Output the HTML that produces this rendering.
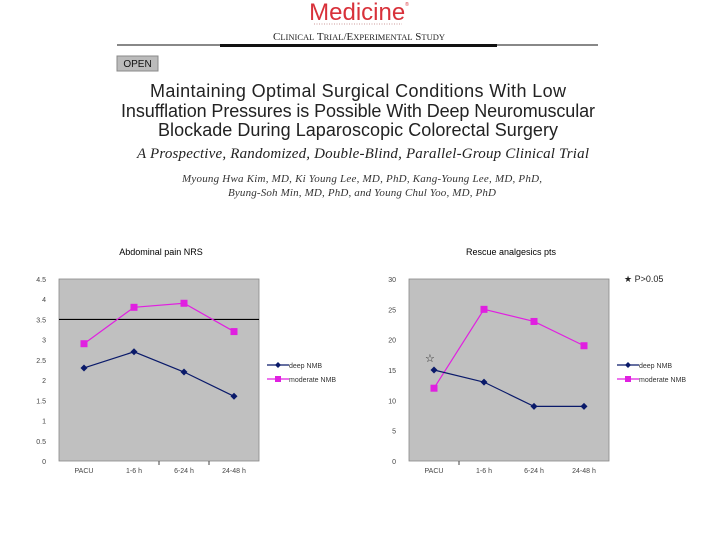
<!DOCTYPE html>
<html><head><meta charset="utf-8"><style>
body{margin:0;background:#fff;}
svg{display:block;font-family:"Liberation Sans",sans-serif;}
</style></head><body>
<svg width="720" height="540" xmlns="http://www.w3.org/2000/svg">
<g>
<text x="359" y="20" text-anchor="middle" font-size="24" fill="#d8313a">Medicine<tspan font-size="5" dy="-14">®</tspan></text>
<line x1="314" y1="24" x2="402" y2="24" stroke="#c99" stroke-width="1" stroke-dasharray="1,1.5"/>
<text x="359" y="40" text-anchor="middle" font-family="Liberation Serif,serif" font-size="11" fill="#222">C<tspan font-size="8.5">LINICAL</tspan> T<tspan font-size="8.5">RIAL</tspan>/E<tspan font-size="8.5">XPERIMENTAL</tspan> S<tspan font-size="8.5">TUDY</tspan></text>
<line x1="117" y1="45" x2="598" y2="45" stroke="#111" stroke-width="1"/>
<rect x="220" y="44" width="277" height="3" fill="#111"/>
<rect x="117" y="56" width="41" height="15" fill="#bbb" stroke="#888"/>
<text x="137.5" y="67" text-anchor="middle" font-size="10" fill="#111">OPEN</text>
<g font-size="18" fill="#222" text-anchor="middle">
<text x="358" y="97" textLength="416">Maintaining Optimal Surgical Conditions With Low</text>
<text x="358" y="117" textLength="474">Insufflation Pressures is Possible With Deep Neuromuscular</text>
<text x="358" y="136" textLength="400">Blockade During Laparoscopic Colorectal Surgery</text>
</g>
<text x="363" y="158" text-anchor="middle" font-family="Liberation Serif,serif" font-style="italic" font-size="15" fill="#222" textLength="452">A Prospective, Randomized, Double-Blind, Parallel-Group Clinical Trial</text>
<g font-family="Liberation Serif,serif" font-style="italic" font-size="11" fill="#333" text-anchor="middle">
<text x="362" y="182" textLength="360">Myoung Hwa Kim, MD, Ki Young Lee, MD, PhD, Kang-Young Lee, MD, PhD,</text>
<text x="362" y="196" textLength="268">Byung-Soh Min, MD, PhD, and Young Chul Yoo, MD, PhD</text>
</g>
</g>
<g id="charts"></g>
</svg>
<script>
const categories=["PACU","1-6 h","6-24 h","24-48 h"];
const painDeep=[2.3,2.7,2.2,1.6];
const painModerate=[2.9,3.8,3.9,3.2];
const painTicks=["0","0.5","1","1.5","2","2.5","3","3.5","4","4.5"];
const rescueDeep=[15,13,9,9];
const rescueModerate=[12,25,23,19];
const rescueTicks=["0","5","10","15","20","25","30"];
const seriesNames=["deep NMB","moderate NMB"];
const NS="http://www.w3.org/2000/svg";
const root=document.getElementById('charts');
function mk(t,a,p){const e=document.createElementNS(NS,t);for(const k in a)e.setAttribute(k,a[k]);(p||root).appendChild(e);return e;}
function chart(name,x0,title,ticks,ymax,deep,mod,refLine,star){
  const g=mk('g',{});
  
  
  const L=x0,R=x0+200,T=279,B=461;
  const ys=v=>B-(v/ymax)*(B-T);
  const xs=i=>L+(R-L)/categories.length*(i+0.5);
  const t=mk('text',{x:(L+R)/2+2,y:255,'text-anchor':'middle','font-size':'9',fill:'#000'},g);t.textContent=title;
  
  
  const bg=mk('rect',{x:L,y:T,width:R-L,height:B-T,fill:'#c0c0c0',stroke:'#888','stroke-width':'0.8'},g);
  
  
  ticks.forEach(tk=>{const v=parseFloat(tk);const y=ys(v);
    const tx=mk('text',{x:L-13,y:y+3,'font-size':'7','text-anchor':'end',fill:'#444'},g);tx.textContent=tk;
    
    });
  categories.forEach((c,i)=>{const tx=mk('text',{x:xs(i),y:B+12,'text-anchor':'middle','font-size':'7',fill:'#444'},g);tx.textContent=c;
    
    });
  mk('line',{x1:L+(R-L)/4*(name==='pain-chart'?2:1)-0,y1:B,x2:L+(R-L)/4*(name==='pain-chart'?2:1),y2:B+4,stroke:'#444'},g);
  if(name==='pain-chart')mk('line',{x1:L+150,y1:B,x2:L+150,y2:B+4,stroke:'#444'},g);
  if(refLine!==null){const rl=mk('line',{x1:L,y1:ys(refLine),x2:R,y2:ys(refLine),stroke:'#000','stroke-width':'1.2'},g);
    
    }
  [[mod,'#e020e0','sq',seriesNames[1]],[deep,'#0a1a6a','dia',seriesNames[0]]].forEach(([d,col,sh,nm])=>{
    const pl=mk('polyline',{points:d.map((v,i)=>xs(i)+','+ys(v)).join(' '),fill:'none',stroke:col,'stroke-width':'1.2'},g);
    
    
    d.forEach((v,i)=>{const x=xs(i),y=ys(v);let m;
      if(sh==='sq')m=mk('rect',{x:x-3.5,y:y-3.5,width:7,height:7,fill:col},g);
      else m=mk('polygon',{points:`${x},${y-3.5} ${x+3.5},${y} ${x},${y+3.5} ${x-3.5},${y}`,fill:col},g);
      
      });
  });
  [[seriesNames[0],'#0a1a6a','dia',365],[seriesNames[1],'#e020e0','sq',379]].forEach(([nm,col,sh,y])=>{
    const lx=R+8;
    mk('line',{x1:lx,y1:y,x2:lx+22,y2:y,stroke:col,'stroke-width':'1.2'},g);
    if(sh==='sq')mk('rect',{x:lx+8,y:y-3,width:6,height:6,fill:col},g);
    else mk('polygon',{points:`${lx+11},${y-3} ${lx+14},${y} ${lx+11},${y+3} ${lx+8},${y}`,fill:col},g);
    const tx=mk('text',{x:lx+22,y:y+3,'font-size':'7',fill:'#333'},g);tx.textContent=nm;
    
    
  });
  if(star){
    const s1=mk('text',{x:xs(0)-9,y:ys(deep[0])-8,'font-size':'11',fill:'#222'},g);s1.textContent='☆';
    
    
    const s2=mk('text',{x:R+15,y:282,'font-size':'9',fill:'#222'},g);s2.textContent='★  P>0.05';
    
    
  }
}
chart('pain-chart',59,'Abdominal pain NRS',painTicks,4.5,painDeep,painModerate,3.5,false);
chart('rescue-chart',409,'Rescue analgesics pts',rescueTicks,30,rescueDeep,rescueModerate,null,true);
</script>
</body></html>
